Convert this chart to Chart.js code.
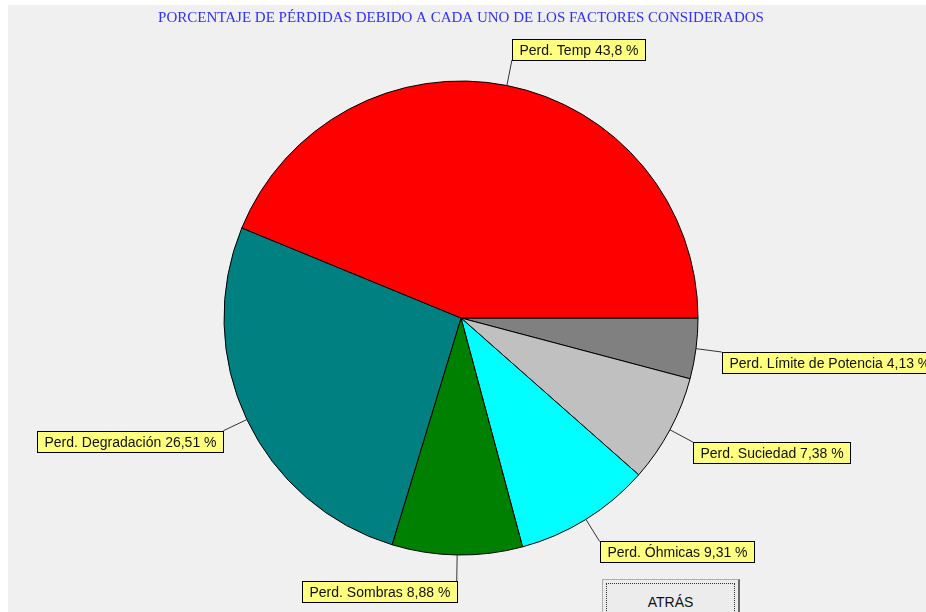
<!DOCTYPE html>
<html>
<head>
<meta charset="utf-8">
<script src="https://cdn.jsdelivr.net/npm/chart.js@4"></script>
<style>
  html, body { margin: 0; padding: 0; background: #fff; overflow: hidden; }
  #panel { position: absolute; left: 8px; top: 5px; width: 918px; height: 607px; background: #f0f0f0; }
  #wrap { position: absolute; left: 0; top: 0; width: 926px; height: 612px; }
  #btn {
    position: absolute; left: 602px; top: 579px; width: 135px; height: 44px;
    border: 1px solid #adadad; border-right: 2px solid #6a6a6a; border-bottom: 2px solid #6a6a6a;
    background: #ececec; box-sizing: content-box;
  }
  #btn .focus {
    position: absolute; left: 3px; top: 3px; right: 3px; bottom: 3px;
    border: 1px dotted #333;
    font: 14px "Liberation Sans", Arial, sans-serif; color: #111;
    text-align: center; padding-top: 10px;
  }
</style>
</head>
<body>
<div id="panel"></div>
<div id="wrap"><canvas id="chart" width="926" height="612"></canvas></div>
<div id="btn"><div class="focus">ATRÁS</div></div>
<script>
// counter-clockwise from 3 o'clock, as in the picture
const factors = ['Temp', 'Degradación', 'Sombras', 'Óhmicas', 'Suciedad', 'Límite de Potencia'];
const losses = [43.8, 26.51, 8.88, 9.31, 7.38, 4.13];
const colors = ['#ff0000', '#008080', '#008000', '#00ffff', '#c0c0c0', '#808080'];

// chart.js draws clockwise, so reverse
const labels = factors.slice().reverse();
const values = losses.slice().reverse();
const fills = colors.slice().reverse();

const calloutPlugin = {
  id: 'callouts',
  afterDatasetsDraw(chart) {
    const ctx = chart.ctx;
    const meta = chart.getDatasetMeta(0);
    ctx.save();
    ctx.font = '14px "Liberation Sans", Arial, sans-serif';
    ctx.textBaseline = 'middle';
    meta.data.forEach((arc, i) => {
      const mid = (arc.startAngle + arc.endAngle) / 2;
      const r = arc.outerRadius;
      const x0 = arc.x + Math.cos(mid) * r;
      const y0 = arc.y + Math.sin(mid) * r;
      const x1 = arc.x + Math.cos(mid) * (r + 26);
      const y1 = arc.y + Math.sin(mid) * (r + 26);

      ctx.strokeStyle = '#333';
      ctx.lineWidth = 1;
      ctx.beginPath();
      ctx.moveTo(x0, y0);
      ctx.lineTo(x1, y1);
      ctx.stroke();

      const text = 'Perd. ' + labels[i] + ' ' + String(values[i]).replace('.', ',') + ' %';
      const w = Math.round(ctx.measureText(text).width + 14);
      const h = 21;
      let bx = x1 >= arc.x ? x1 : x1 - w;
      let by = y1 < arc.y ? y1 - h : y1;
      bx = Math.round(bx) + 0.5;
      by = Math.round(by) + 0.5;
      ctx.fillStyle = '#ffff80';
      ctx.fillRect(bx, by, w, h);
      ctx.strokeStyle = '#000';
      ctx.strokeRect(bx, by, w, h);
      ctx.fillStyle = '#111';
      ctx.fillText(text, bx + 7, by + h / 2 + 1);
    });
    ctx.restore();
  }
};

new Chart(document.getElementById('chart'), {
  type: 'pie',
  data: {
    labels: labels,
    datasets: [{
      data: values,
      backgroundColor: fills,
      borderColor: '#000',
      borderWidth: 1
    }]
  },
  options: {
    responsive: false,
    animation: false,
    rotation: 90,
    radius: 237,
    layout: { padding: { left: 0, right: 4, top: 0, bottom: 0 } },
    plugins: {
      legend: { display: false },
      tooltip: { enabled: false },
      title: {
        display: true,
        text: 'PORCENTAJE DE PÉRDIDAS DEBIDO A CADA UNO DE LOS FACTORES CONSIDERADOS',
        color: '#3030ff',
        font: { family: '"Liberation Serif", "Times New Roman", serif', size: 15, weight: 'normal', lineHeight: 1 },
        padding: { top: 11, bottom: -2 }
      }
    }
  },
  plugins: [calloutPlugin]
});
</script>
</body>
</html>
